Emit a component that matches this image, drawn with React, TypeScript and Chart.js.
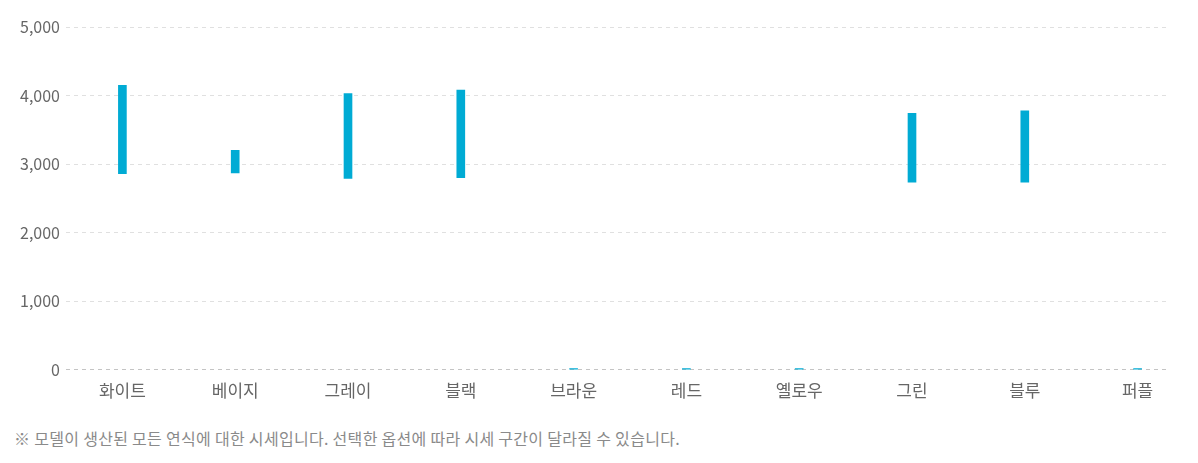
import React, { useEffect, useRef } from "react";
import { Chart, registerables } from "chart.js";

Chart.register(...registerables);

const categories = ["화이트", "베이지", "그레이", "블랙", "브라운", "레드", "옐로우", "그린", "블루", "퍼플"];
const lowValues = [2860, 2870, 2790, 2800, -15, -15, -15, 2735, 2735, -15];
const highValues = [4150, 3200, 4030, 4080, 15, 15, 15, 3740, 3775, 15];
const yTicks = [0, 1000, 2000, 3000, 4000, 5000];
const footnote = "※ 모델이 생산된 모든 연식에 대한 시세입니다. 선택한 옵션에 따라 시세 구간이 달라질 수 있습니다.";

const FONT = "'Noto Sans CJK KR', 'Noto Sans', sans-serif";

export default function App() {
  const ref = useRef<HTMLCanvasElement | null>(null);

  useEffect(() => {
    if (!ref.current) return;
    const gridClip = {
      id: "gridClip",
      beforeDatasetsDraw(chart: any) {
        const { ctx, chartArea } = chart;
        ctx.save();
        ctx.fillStyle = "#ffffff";
        ctx.fillRect(1168, chartArea.top - 2, chartArea.right - 1168 + 5, chartArea.bottom - chartArea.top + 4);
        ctx.restore();
      },
    };
    const chart = new Chart(ref.current, {
      type: "bar",
      data: {
        labels: categories,
        datasets: [
          {
            data: categories.map((_, i) => [lowValues[i], highValues[i]]) as any,
            backgroundColor: "#00abd4",
            borderWidth: 0,
            barThickness: 8,
          },
        ],
      },
      options: {
        animation: false,
        responsive: true,
        maintainAspectRatio: false,
        layout: { padding: { top: 27, right: 4, bottom: 10, left: 0 } },
        plugins: {
          legend: { display: false },
          tooltip: { enabled: false },
        },
        scales: {
          x: {
            grid: { display: false, drawTicks: false },
            border: { display: false },
            ticks: {
              padding: 11,
              color: "#666666",
              font: { family: FONT, size: 17 },
            },
          },
          y: {
            min: 0,
            max: 5000,
            afterFit: (s: any) => {
              s.width = 66;
            },
            afterBuildTicks: (s: any) => {
              s.ticks = yTicks.map((v) => ({ value: v }));
            },
            grid: {
              drawTicks: false,
              color: (c: any) => (c.tick && c.tick.value === 0 ? "#c4c4c4" : "#e0e0e0"),
              lineWidth: 1,
            },
            border: { display: false, dash: [4, 4] },
            ticks: {
              padding: 6,
              color: "#666666",
              font: { family: FONT, size: 16 },
              callback: (v: any) => Number(v).toLocaleString("en-US"),
            },
          },
        },
      },
      plugins: [gridClip],
    });
    return () => chart.destroy();
  }, []);

  return (
    <div style={{ position: "absolute", left: 0, top: 0, width: 1198, height: 463, background: "#fff" }}>
      <div style={{ position: "absolute", left: 0, top: 0, width: 1198, height: 422 }}>
        <canvas ref={ref} />
      </div>
      <div
        style={{
          position: "absolute",
          left: 14,
          top: 427,
          fontFamily: FONT,
          fontSize: 16,
          letterSpacing: "0.3px",
          color: "#8a8a8a",
          whiteSpace: "nowrap",
          lineHeight: "22px",
        }}
      >
        {footnote}
      </div>
    </div>
  );
}
